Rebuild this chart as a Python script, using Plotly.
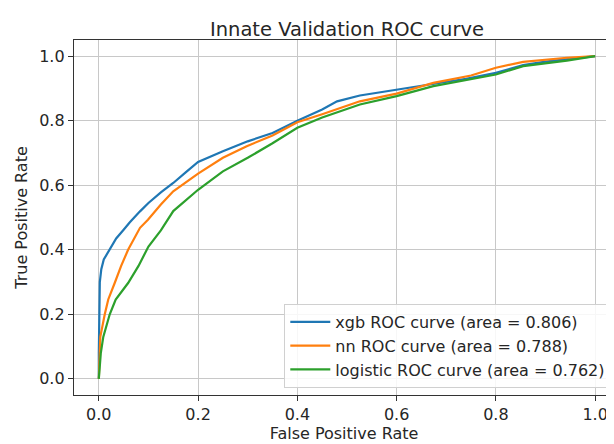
import plotly.graph_objects as go

# xgb ROC curve
xgb_fpr = [0.0, 0.0, 0.002, 0.005, 0.01, 0.022, 0.035, 0.05, 0.0625, 0.083, 0.1, 0.125, 0.15, 0.175, 0.2,
           0.25, 0.3, 0.35, 0.4, 0.45, 0.48, 0.526, 0.6, 0.674, 0.74, 0.8, 0.855, 0.9, 0.943, 1.0]
xgb_tpr = [0.0, 0.08, 0.3, 0.34, 0.37, 0.40, 0.435, 0.462, 0.485, 0.519, 0.545, 0.578, 0.607, 0.64, 0.672,
           0.705, 0.736, 0.762, 0.8, 0.835, 0.86, 0.878, 0.896, 0.912, 0.93, 0.948, 0.972, 0.983, 0.99, 1.0]

# nn ROC curve
nn_fpr = [0.0, 0.002, 0.003, 0.012, 0.019, 0.032, 0.045, 0.059, 0.083, 0.099, 0.125, 0.15, 0.2, 0.25,
          0.298, 0.35, 0.4, 0.45, 0.526, 0.6, 0.674, 0.75, 0.8, 0.855, 0.943, 1.0]
nn_tpr = [0.0, 0.08, 0.13, 0.2, 0.246, 0.297, 0.35, 0.40, 0.468, 0.493, 0.54, 0.581, 0.636, 0.685,
          0.721, 0.754, 0.795, 0.82, 0.86, 0.884, 0.917, 0.94, 0.964, 0.982, 0.995, 1.0]

# logistic ROC curve
lr_fpr = [0.0, 0.004, 0.009, 0.022, 0.034, 0.059, 0.08, 0.1, 0.125, 0.15, 0.2, 0.25, 0.3, 0.35, 0.4,
          0.45, 0.526, 0.6, 0.674, 0.8, 0.855, 0.943, 1.0]
lr_tpr = [0.0, 0.08, 0.13, 0.2, 0.246, 0.297, 0.35, 0.41, 0.46, 0.52, 0.586, 0.643, 0.685, 0.73, 0.778,
          0.81, 0.85, 0.876, 0.907, 0.943, 0.969, 0.986, 1.0]

labels = ["xgb ROC curve (area = 0.806)", "nn ROC curve (area = 0.788)",
          "logistic ROC curve (area = 0.762)"]
colors = ["#1f77b4", "#ff7f0e", "#2ca02c"]
tick_vals = [0.0, 0.2, 0.4, 0.6, 0.8, 1.0]
tick_text = ["0.0", "0.2", "0.4", "0.6", "0.8", "1.0"]

FONT = "DejaVu Sans"
TXT = "#262626"
# page body has an 8px default margin; figure is sized to fill the remaining window
W, H = 606, 436

fig = go.Figure()
for xs, ys, lab, col in zip([xgb_fpr, nn_fpr, lr_fpr], [xgb_tpr, nn_tpr, lr_tpr], labels, colors):
    fig.add_trace(go.Scatter(x=xs, y=ys, mode="lines", name=lab,
                             line=dict(color=col, width=2.2)))

axis_common = dict(
    showgrid=True, gridcolor="#c8c8c8", gridwidth=1.3,
    zeroline=False, showline=True, linecolor="#333333", linewidth=1.3,
    ticks="outside", ticklen=5, tickcolor="#333333", tickwidth=1.2,
    tickvals=tick_vals, ticktext=tick_text, automargin=False,
    tickfont=dict(family=FONT, size=16, color=TXT),
)

fig.update_layout(
    width=W, height=H,
    margin=dict(l=66, r=0, t=32, b=49, autoexpand=False),
    paper_bgcolor="white", plot_bgcolor="white",
    title=dict(text="Innate Validation ROC curve", x=339 / W, xanchor="center",
               yref="container", y=1 - 21 / H, yanchor="middle",
               font=dict(family=FONT, size=19.5, color=TXT)),
    xaxis=dict(range=[-0.05, 1.038], mirror=True,
               title=dict(text="False Positive Rate", standoff=4,
                          font=dict(family=FONT, size=16, color=TXT)),
               **axis_common),
    yaxis=dict(range=[-0.05, 1.05],
               title=dict(text="True Positive Rate", standoff=7,
                          font=dict(family=FONT, size=16, color=TXT)),
               **axis_common),
    legend=dict(x=0.995, xanchor="right", y=0.02, yanchor="bottom",
                bgcolor="rgba(255,255,255,0.85)", bordercolor="#d0d0d0", borderwidth=1,
                font=dict(family=FONT, size=16, color=TXT),
                itemwidth=40, tracegroupgap=0),
    showlegend=True,
)

fig.write_html("out.html")
